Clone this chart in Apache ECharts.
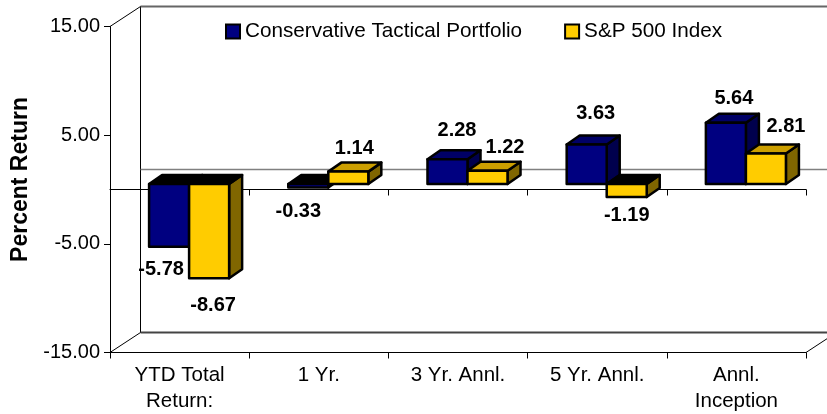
<!DOCTYPE html>
<html>
<head>
<meta charset="utf-8">
<style>
  html, body { margin: 0; padding: 0; background: #fff; }
  #chart { width: 827px; height: 414px; }
</style>
<script src="https://cdn.jsdelivr.net/npm/echarts@6/dist/echarts.min.js"></script>
</head>
<body>
<div id="chart"></div>
<script>
const categories = ['YTD Total\nReturn:', '1 Yr.', '3 Yr. Annl.', '5 Yr. Annl.', 'Annl.\nInception']
const portfolioValues = [-5.78, -0.33, 2.28, 3.63, 5.64]
const indexValues = [-8.67, 1.14, 1.22, -1.19, 2.81]
const yTicks = [-15, -5, 5, 15]

// hand placed value labels, px from the end of each bar
const portfolioLabelShift = [[-8, 23], [-10, 24], [9.5, -29], [9, -31.5], [8, -24]]
const indexLabelShift = [[4, 27], [6, -23], [17.5, -23], [0, 19], [20, -27]]

const FONT = '"Liberation Sans", Arial, sans-serif'
const WALL_DX = 30.5
const WALL_DY = -20
const BAR_DX = 9.5
const BAR_DY = -5.5
const BAR_DEPTH_X = 13
const BAR_DEPTH_Y = -9
const BAR_RATIO = 0.2875

// back wall and floor of the fake 3d box
const renderWall = (params, api) => {
  const left = params.coordSys.x
  const right = left + params.coordSys.width
  const yTop = api.coord([0, 15])[1]
  const yZero = api.coord([0, 0])[1]
  const yBottom = api.coord([0, -15])[1]
  const line = (x1, y1, x2, y2, c, w) => ({
    type: 'line',
    shape: { x1, y1, x2, y2 },
    style: { stroke: c, lineWidth: w, fill: null }
  })
  const wallLeft = left + WALL_DX
  const wallRight = right + WALL_DX
  return {
    type: 'group',
    children: [
      line(wallLeft, yTop + WALL_DY, wallLeft, yBottom + WALL_DY, '#000', 1),
      line(wallLeft, yTop + WALL_DY, wallRight, yTop + WALL_DY, '#666', 2),
      line(wallLeft, yZero + WALL_DY, wallRight, yZero + WALL_DY, '#808080', 1.5),
      line(wallLeft, yBottom + WALL_DY, wallRight, yBottom + WALL_DY, '#444', 2),
      line(left, yTop, wallLeft, yTop + WALL_DY, '#000', 1),
      line(left, yBottom, wallLeft, yBottom + WALL_DY, '#000', 1),
      line(right, yBottom, wallRight, yBottom + WALL_DY, '#000', 1)
    ]
  }
}

// one 3d box, colours per series
const makeBarRender = (side, faceColor, sideColor, topColor, labelShift) => (params, api) => {
  const i = api.value(0)
  const v = api.value(1)
  const band = api.size([1, 0])[0]
  const w = band * BAR_RATIO
  const base = api.coord([i, 0])
  const end = api.coord([i, v])
  const x0 = base[0] + BAR_DX + (side === 0 ? -w : 0)
  const x1 = x0 + w
  const y0 = base[1] + BAR_DY
  const yv = end[1] + BAR_DY
  const top = Math.min(y0, yv)
  const bottom = Math.max(y0, yv)
  const edge = { stroke: '#000', lineWidth: 2.5, lineJoin: 'round' }
  const shift = labelShift[i]
  return {
    type: 'group',
    children: [
      {
        type: 'polygon',
        shape: { points: [[x1, top], [x1 + BAR_DEPTH_X, top + BAR_DEPTH_Y], [x1 + BAR_DEPTH_X, bottom + BAR_DEPTH_Y], [x1, bottom]] },
        style: { fill: sideColor, ...edge }
      },
      {
        type: 'polygon',
        shape: { points: [[x0, top], [x0 + BAR_DEPTH_X, top + BAR_DEPTH_Y], [x1 + BAR_DEPTH_X, top + BAR_DEPTH_Y], [x1, top]] },
        style: { fill: v < 0 ? '#000' : topColor, ...edge }
      },
      {
        type: 'rect',
        shape: { x: x0, y: top, width: w, height: bottom - top },
        style: { fill: faceColor, ...edge }
      },
      {
        type: 'text',
        z2: 10,
        style: {
          x: x0 + w / 2 + shift[0],
          y: yv + shift[1],
          text: v.toFixed(2),
          align: 'center',
          verticalAlign: 'middle',
          fontFamily: FONT,
          fontWeight: 'bold',
          fontSize: 20,
          fill: '#000'
        }
      }
    ]
  }
}

const chart = echarts.init(document.getElementById('chart'))

const option = {
  animation: false,
  backgroundColor: '#fff',
  grid: { left: 110, right: 21, top: 26.5, bottom: 61.5, outerBoundsMode: 'none' },
  legend: {
    left: 225,
    top: 21,
    padding: 0,
    itemWidth: 14,
    itemHeight: 14,
    itemGap: 42,
    icon: 'rect',
    textStyle: { fontFamily: FONT, fontSize: 20.7, color: '#000' },
    data: ['Conservative Tactical Portfolio', 'S&P 500 Index']
  },
  xAxis: [
    {
      type: 'category',
      data: categories,
      position: 'bottom',
      axisLine: { onZero: false, lineStyle: { color: '#000', width: 1 } },
      axisTick: { show: true, alignWithLabel: false, length: 6, lineStyle: { color: '#000' } },
      axisLabel: { fontFamily: FONT, fontSize: 20.5, color: '#000', lineHeight: 26, margin: 10, interval: 0 }
    },
    {
      // line and ticks through zero
      type: 'category',
      data: categories,
      position: 'top',
      axisLine: { onZero: true, lineStyle: { color: '#000', width: 1 } },
      axisTick: { show: true, inside: true, length: 6, lineStyle: { color: '#000' } },
      axisLabel: { show: false }
    }
  ],
  yAxis: {
    type: 'value',
    min: -15,
    max: 15,
    interval: 5,
    splitLine: { show: false },
    axisLine: { show: true, onZero: false, lineStyle: { color: '#000' } },
    axisTick: { show: true, length: 6, customValues: yTicks, lineStyle: { color: '#000' } },
    axisLabel: {
      fontFamily: FONT,
      fontSize: 20,
      color: '#000',
      margin: 10,
      customValues: yTicks,
      formatter: (val) => val.toFixed(2)
    },
    name: 'Percent Return',
    nameLocation: 'middle',
    nameGap: 78,
    nameTextStyle: { fontFamily: FONT, fontWeight: 'bold', fontSize: 23, color: '#000', padding: [0, 0, 0, 20] }
  },
  series: [
    {
      type: 'custom',
      z: 1,
      silent: true,
      renderItem: renderWall,
      data: [[0, 0]]
    },
    {
      name: 'Conservative Tactical Portfolio',
      type: 'custom',
      z: 3,
      itemStyle: { color: '#000080', borderColor: '#000', borderWidth: 2 },
      renderItem: makeBarRender(0, '#000080', '#00004d', '#000066', portfolioLabelShift),
      encode: { x: 0, y: 1 },
      data: portfolioValues.map((v, i) => [i, v])
    },
    {
      name: 'S&P 500 Index',
      type: 'custom',
      z: 4,
      itemStyle: { color: '#ffcc00', borderColor: '#000', borderWidth: 2 },
      renderItem: makeBarRender(1, '#ffcc00', '#806600', '#cc9f00', indexLabelShift),
      encode: { x: 0, y: 1 },
      data: indexValues.map((v, i) => [i, v])
    }
  ]
}

chart.setOption(option)
</script>
</body>
</html>
